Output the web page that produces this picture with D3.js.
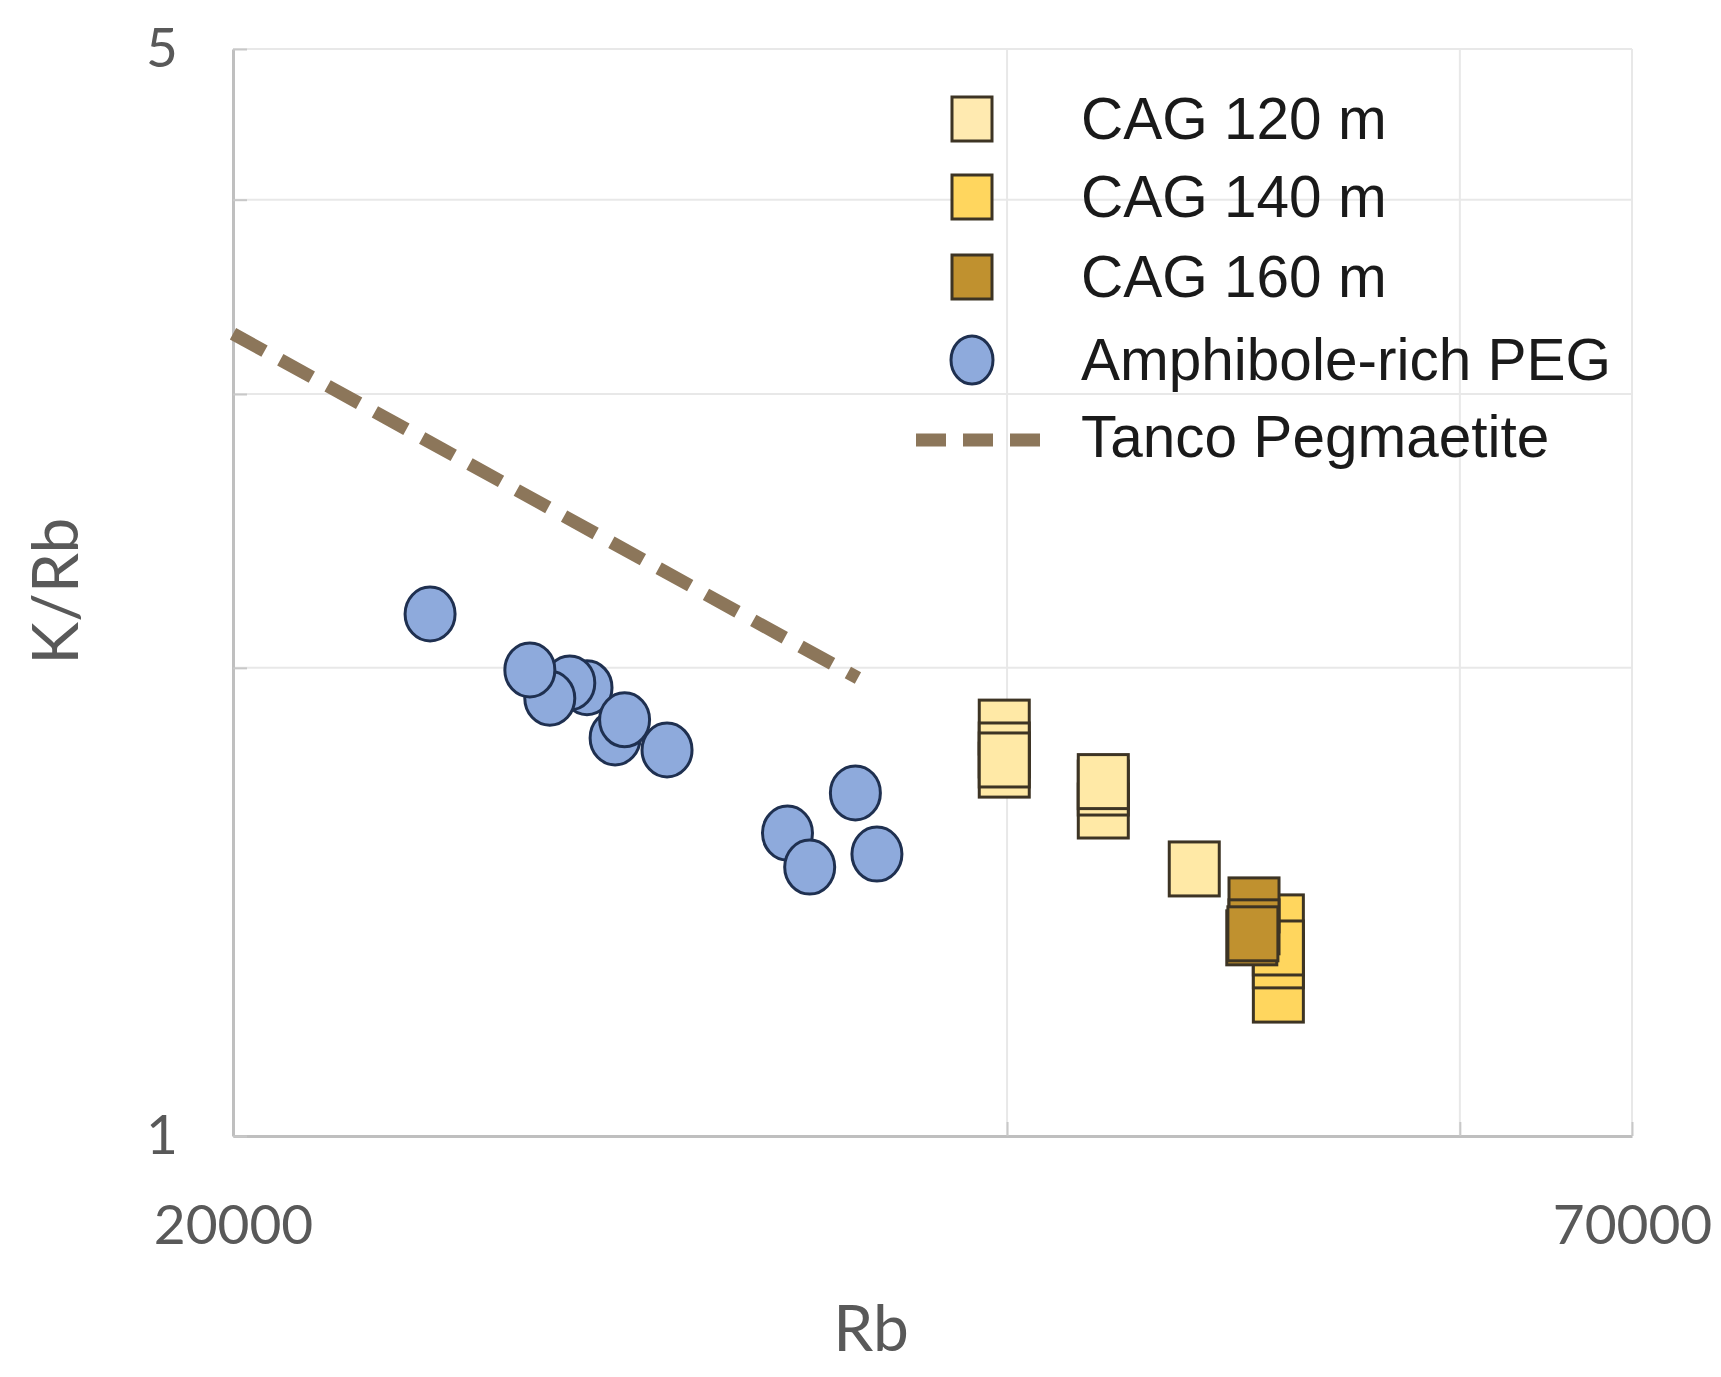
<!DOCTYPE html>
<html>
<head>
<meta charset="utf-8">
<script src="https://cdn.jsdelivr.net/npm/d3@7"></script>
<style>
  body { margin: 0; background: #fff; }
</style>
</head>
<body>
<script>
// series names (legend order)
var seriesNames = ["CAG 120 m", "CAG 140 m", "CAG 160 m", "Amphibole-rich PEG", "Tanco Pegmaetite"];

// [Rb, K/Rb], in drawing order
var cag120 = [
  [39900, 1.832], [39900, 1.719], [39900, 1.771], [39900, 1.745],
  [43600, 1.618], [43600, 1.674], [43600, 1.690],
  [47300, 1.485]
];
var cag140 = [[51000, 1.232], [51000, 1.373], [51000, 1.296], [51000, 1.321]];
var cag160 = [[49800, 1.341], [49900, 1.408], [49900, 1.363], [49850, 1.349]];
var amphPeg = [
  [23860, 2.166], [27460, 1.942], [27040, 1.956], [26560, 1.912], [26090, 1.994],
  [28160, 1.803], [28400, 1.852], [29500, 1.771],
  [32860, 1.566], [33520, 1.489], [34920, 1.662], [35600, 1.518]
];
var tanco = [[20000, 3.28], [35000, 1.97]];

var xTicks = [20000, 40000, 60000, 70000];
var xLabels = [20000, 70000];
var yTicks = [1, 2, 3, 4, 5];
var yLabels = [1, 5];

var W = 1721, H = 1377;
var plotL = 233, plotR = 1632, plotT = 49, plotB = 1136;

var svg = d3.select("body").append("svg")
  .attr("width", W)
  .attr("height", H);

var x = d3.scaleLog().domain([20000, 70000]).range([plotL, plotR]);
var y = d3.scaleLog().domain([1, 5]).range([plotB, plotT]);

// gridlines
svg.append("g").selectAll("line")
  .data(yTicks.slice(1))
  .enter().append("line")
  .attr("x1", plotL).attr("x2", plotR)
  .attr("y1", function(d){ return y(d); })
  .attr("y2", function(d){ return y(d); })
  .attr("stroke", "#e8e8e8")
  .attr("stroke-width", 2);

svg.append("g").selectAll("line")
  .data(xTicks.slice(1))
  .enter().append("line")
  .attr("y1", plotT).attr("y2", plotB)
  .attr("x1", function(d){ return x(d); })
  .attr("x2", function(d){ return x(d); })
  .attr("stroke", "#e8e8e8")
  .attr("stroke-width", 2);

// axes
var xAxis = d3.axisBottom(x)
  .tickValues(xTicks)
  .tickSize(-14)
  .tickSizeOuter(0)
  .tickPadding(69)
  .tickFormat(function(d){ return xLabels.indexOf(d) >= 0 ? String(d) : ""; });

var yAxis = d3.axisLeft(y)
  .tickValues(yTicks)
  .tickSize(-14)
  .tickSizeOuter(0)
  .tickPadding(55)
  .tickFormat(function(d){ return yLabels.indexOf(d) >= 0 ? String(d) : ""; });

var gx = svg.append("g").attr("transform", "translate(0," + plotB + ")").call(xAxis);
var gy = svg.append("g").attr("transform", "translate(" + plotL + ",0)").call(yAxis);

[gx, gy].forEach(function(g){
  g.select(".domain").attr("stroke", "#bfbfbf").attr("stroke-width", 3);
  g.selectAll(".tick line").attr("stroke", "#c8c8c8").attr("stroke-width", 2);
  g.selectAll(".tick text")
    .attr("fill", "#595959")
    .style("font-family", "Lato, 'Open Sans', sans-serif")
    .style("font-size", "55px");
});

// axis titles
svg.append("text")
  .attr("x", 871).attr("y", 1351)
  .attr("text-anchor", "middle")
  .attr("fill", "#595959")
  .style("font-family", "Lato, 'Open Sans', sans-serif")
  .style("font-size", "64px")
  .text("Rb");

svg.append("text")
  .attr("transform", "translate(78,591) rotate(-90)")
  .attr("text-anchor", "middle")
  .attr("fill", "#595959")
  .style("font-family", "Lato, 'Open Sans', sans-serif")
  .style("font-size", "64px")
  .text("K/Rb");

// Tanco line
var line = d3.line()
  .x(function(d){ return x(d[0]); })
  .y(function(d){ return y(d[1]); });

svg.append("path")
  .datum(tanco)
  .attr("d", line)
  .attr("fill", "none")
  .attr("stroke", "#8c765a")
  .attr("stroke-width", 13)
  .attr("stroke-dasharray", "36,18");

// squares
var sqW = 50, sqH = 54;
function drawSquares(data, fill) {
  svg.append("g").selectAll("rect")
    .data(data)
    .enter().append("rect")
    .attr("x", function(d){ return x(d[0]) - sqW / 2; })
    .attr("y", function(d){ return y(d[1]) - sqH / 2; })
    .attr("width", sqW)
    .attr("height", sqH)
    .attr("fill", fill)
    .attr("stroke", "#3d3424")
    .attr("stroke-width", 3);
}
drawSquares(cag120, "#ffe9a6");
drawSquares(cag140, "#ffd65e");
drawSquares(cag160, "#c0912f");

// circles
svg.append("g").selectAll("ellipse")
  .data(amphPeg)
  .enter().append("ellipse")
  .attr("cx", function(d){ return x(d[0]); })
  .attr("cy", function(d){ return y(d[1]); })
  .attr("rx", 25)
  .attr("ry", 27)
  .attr("fill", "#8eaadc")
  .attr("stroke", "#1f3050")
  .attr("stroke-width", 3);

// legend
var legRows = [119, 197, 277, 360, 437];
var legX = 972, legTextX = 1081;
var legFills = ["#ffeab0", "#ffd65e", "#c0912f"];
var leg = svg.append("g");

leg.selectAll("rect")
  .data(legFills)
  .enter().append("rect")
  .attr("x", legX - 20)
  .attr("y", function(d, i){ return legRows[i] - 22; })
  .attr("width", 40)
  .attr("height", 44)
  .attr("fill", function(d){ return d; })
  .attr("stroke", "#3d3424")
  .attr("stroke-width", 3);

leg.append("ellipse")
  .attr("cx", legX).attr("cy", legRows[3])
  .attr("rx", 21).attr("ry", 24)
  .attr("fill", "#8eaadc")
  .attr("stroke", "#1f3050")
  .attr("stroke-width", 3);

leg.append("line")
  .attr("x1", 916).attr("x2", 1040)
  .attr("y1", legRows[4] + 3).attr("y2", legRows[4] + 3)
  .attr("stroke", "#8c765a")
  .attr("stroke-width", 13)
  .attr("stroke-dasharray", "30,17");

leg.selectAll("text")
  .data(seriesNames)
  .enter().append("text")
  .attr("x", legTextX)
  .attr("y", function(d, i){ return legRows[i] + 20; })
  .attr("fill", "#1a1a1a")
  .style("font-family", "'Liberation Sans', Arial, sans-serif")
  .style("font-size", "58.5px")
  .text(function(d){ return d; });
</script>
</body>
</html>
